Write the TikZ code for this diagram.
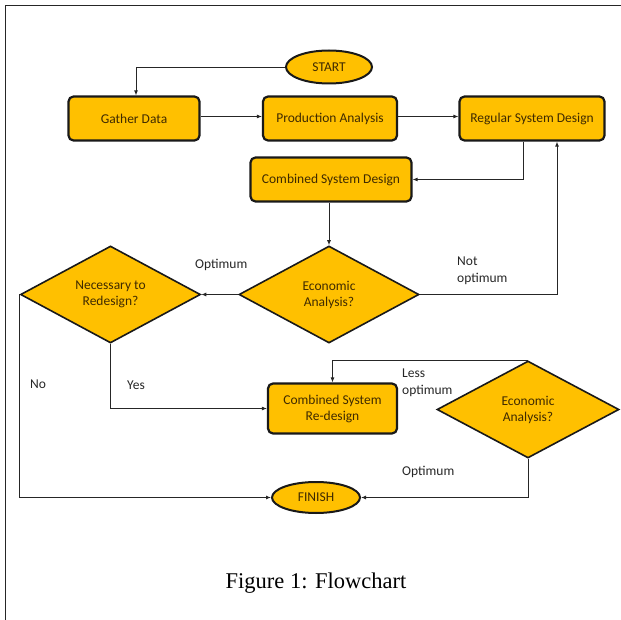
\documentclass[tikz,border=0pt]{standalone}
\usepackage{fontspec}
\setmainfont{Carlito}
\newfontfamily\capfont{Liberation Serif}
\usetikzlibrary{shapes.geometric,arrows.meta}
\definecolor{boxfill}{HTML}{FFC000}
\definecolor{boxtext}{HTML}{3F2A00}
\tikzset{
  base/.style={draw=black!90, fill=boxfill, text=boxtext, font=\fontsize{13.5}{16}\selectfont, align=center, inner sep=0pt},
  procbox/.style={base, rectangle, rounded corners=5pt, line width=2.2pt},
  termbox/.style={base, ellipse, line width=2pt},
  decbox/.style={base, diamond, line width=1.6pt, aspect=1.85},
  conn/.style={draw=black!85, line width=0.9pt, -{Latex[length=5pt,width=4pt]}},
  lbl/.style={font=\fontsize{13.5}{16.5}\selectfont, text=black!85, align=left, inner sep=0pt},
}
\begin{document}
\begin{tikzpicture}[x=1pt,y=-1pt]
\useasboundingbox (0,0) rectangle (621,620);
% frame
\draw[line width=1.8pt, black!85] (621,5.5) -- (5.5,5.5) -- (5.5,620);

\node[termbox, minimum width=86, minimum height=33] (start) at (329,67) {START};
\node[procbox, minimum width=131, minimum height=44] (gather) at (134,118.5) {Gather Data};
\node[procbox, minimum width=134, minimum height=44] (prod) at (330,118.5) {Production Analysis};
\node[procbox, minimum width=145, minimum height=44] (reg) at (532,118.5) {Regular System Design};
\node[procbox, minimum width=161, minimum height=44] (comb) at (331,179.5) {Combined System Design};
\node[decbox, minimum width=180, minimum height=97] (econ1) at (329,294.5) {Economic\\Analysis?};
\node[decbox, minimum width=180, minimum height=97] (nec) at (110.5,294.5) {Necessary to\\Redesign?};
\node[procbox, minimum width=129, minimum height=50] (redes) at (332.5,408.5) {Combined System\\Re-design};
\node[decbox, minimum width=182, minimum height=97] (econ2) at (528,409.5) {Economic\\Analysis?};
\node[termbox, minimum width=88, minimum height=31] (finish) at (316,497.5) {FINISH};

\node[font=\capfont\fontsize{22.5}{24}\selectfont, inner sep=0pt] (cap) at (316,583) {Figure 1: Flowchart};

% connectors
\draw[conn] (start.west) -| ([xshift=2pt]gather.north);
\draw[conn] ([yshift=2pt]gather.east) -- ([yshift=2pt]prod.west);
\draw[conn] ([yshift=2pt]prod.east) -- ([yshift=2pt]reg.west);
\coordinate (rb) at ([xshift=-9pt]reg.south);
\draw[conn] (rb) |- (comb.east);
\draw[conn] ([xshift=-2pt]comb.south) -- (econ1.north);
\draw[conn] (econ1.west) -- (nec.east);
\coordinate (rb2) at ([xshift=25pt]reg.south);
\draw[conn] (econ1.east) -| (rb2);
\draw[conn] (nec.south) |- (redes.west);
\draw[conn] (nec.west) |- (finish.west);
\draw[conn] (econ2.north) -| (redes.north);
\draw[conn] (econ2.south) |- (finish.east);

% labels
\node[lbl, anchor=west] (l1) at (195,265) {Optimum};
\node[lbl, anchor=west] (l2) at (457,271) {Not\\optimum};
\node[lbl, anchor=west] (l3) at (127,385) {Yes};
\node[lbl, anchor=west] (l4) at (30,384) {No};
\node[lbl, anchor=west] (l5) at (402,383) {Less\\optimum};
\node[lbl, anchor=west] (l6) at (402,472) {Optimum};
\end{tikzpicture}
\end{document}
